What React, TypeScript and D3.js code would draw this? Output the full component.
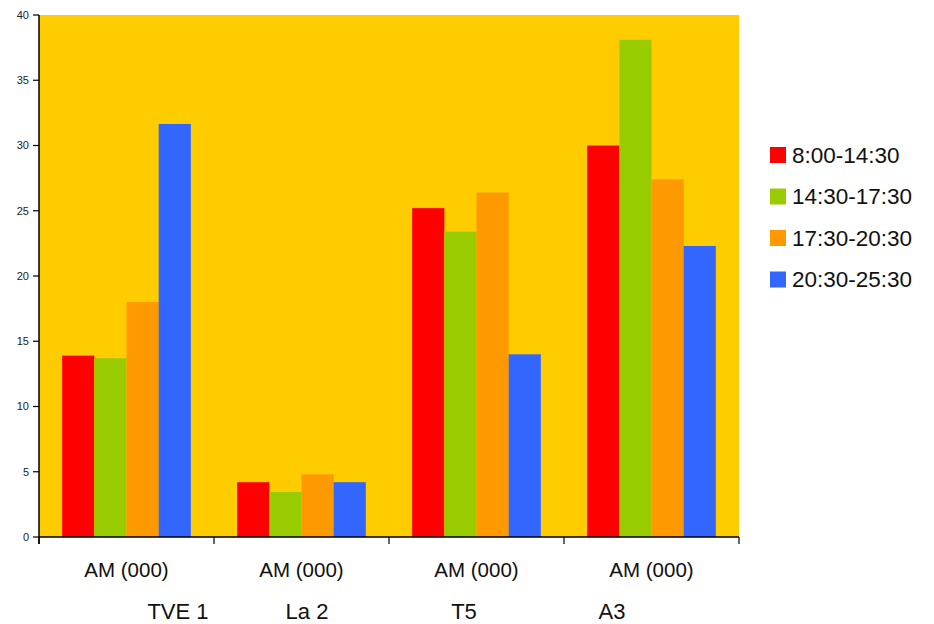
import React from "react";
import * as d3 from "d3";

const categories = ["AM (000)", "AM (000)", "AM (000)", "AM (000)"];
const channels = ["TVE 1", "La 2", "T5", "A3"];
const seriesNames = ["8:00-14:30", "14:30-17:30", "17:30-20:30", "20:30-25:30"];
const seriesColors = ["#FF0000", "#99CC00", "#FF9900", "#3366FF"];
const s1 = [13.9, 4.2, 25.2, 30.0];
const s2 = [13.7, 3.45, 23.4, 38.1];
const s3 = [18.0, 4.8, 26.4, 27.4];
const s4 = [31.65, 4.2, 14.0, 22.3];
const seriesValues = [s1, s2, s3, s4];
const yTicks = [0, 5, 10, 15, 20, 25, 30, 35, 40];

const W = 934;
const H = 624;
const left = 39;
const right = 739;
const top = 15;
const bottom = 537;

export default function App() {
  const idx = categories.map((_, i) => String(i));
  const x0 = d3.scaleBand<string>().domain(idx).range([left, right]).paddingInner(0).paddingOuter(0);
  const x1 = d3
    .scaleBand<string>()
    .domain(seriesNames)
    .range([0, x0.bandwidth()])
    .paddingInner(0)
    .paddingOuter(0.72);
  const y = d3.scaleLinear().domain([0, 40]).range([bottom, top]);
  const font = "'Liberation Sans', Arial, sans-serif";
  const channelX = [178, 307, 464, 612];

  return (
    <svg
      width={W}
      height={H}
      style={{ position: "absolute", left: 0, top: 0, display: "block", background: "#fff" }}
      fontFamily={font}
    >
      <rect x={left} y={top} width={right - left} height={bottom - top} fill="#FFCC00" />
      {seriesValues.map((vals, si) =>
        vals.map((v, ci) => (
          <rect
            key={`${si}-${ci}`}
            x={(x0(String(ci)) as number) + (x1(seriesNames[si]) as number)}
            y={y(v)}
            width={x1.bandwidth()}
            height={bottom - y(v)}
            fill={seriesColors[si]}
          />
        ))
      )}
      {/* y axis */}
      <line x1={left} x2={left} y1={top} y2={bottom + 7} stroke="#000" strokeWidth={1.5} />
      {yTicks.map((t) => (
        <g key={t}>
          <line x1={left - 6} x2={left} y1={y(t)} y2={y(t)} stroke="#000" strokeWidth={1.2} />
          <text x={left - 10} y={y(t)} dy="0.35em" textAnchor="end" fontSize={11} fill="#222">
            {t}
          </text>
        </g>
      ))}
      {/* x axis */}
      <line x1={left} x2={right} y1={bottom} y2={bottom} stroke="#000" strokeWidth={1.5} />
      {d3.range(categories.length + 1).map((i) => {
        const xx = left + i * x0.step();
        return <line key={i} x1={xx} x2={xx} y1={bottom} y2={bottom + 7} stroke="#000" strokeWidth={1.2} />;
      })}
      {categories.map((c, i) => (
        <text
          key={i}
          x={(x0(String(i)) as number) + x0.bandwidth() / 2}
          y={577}
          textAnchor="middle"
          fontSize={20.5}
          fill="#111"
        >
          {c}
        </text>
      ))}
      {channels.map((c, i) => (
        <text key={c} x={channelX[i]} y={619} textAnchor="middle" fontSize={22} fill="#111">
          {c}
        </text>
      ))}
      {/* legend */}
      {seriesNames.map((n, i) => (
        <g key={n} transform={`translate(770, ${147 + i * 41.5})`}>
          <rect x={0} y={0} width={16} height={16} fill={seriesColors[i]} />
          <text x={22} y={15.5} fontSize={22.5} fill="#111">
            {n}
          </text>
        </g>
      ))}
    </svg>
  );
}
